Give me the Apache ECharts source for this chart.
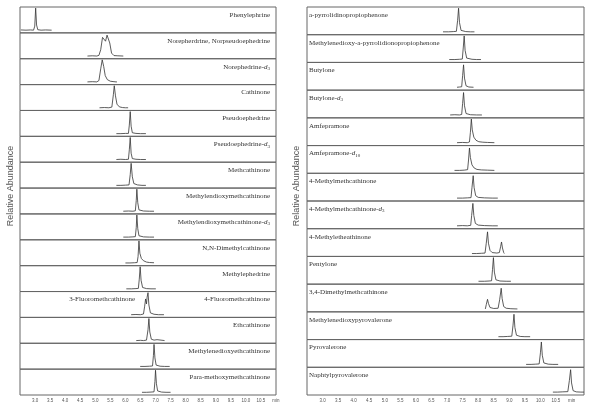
<!DOCTYPE html>
<html><head><meta charset="utf-8">
<script src="https://cdn.jsdelivr.net/npm/echarts@6/dist/echarts.min.js"></script>
<style>html,body{margin:0;padding:0;background:#fff}#c{width:598px;height:408px}</style>
</head><body><div id="c"></div>
<script>
// Axis ticks (retention time, min)
const xTickStart = 2.5, xTickStep = 0.5;
const xUnitLabel = 'min';
const yTitle = 'Relative Abundance';

// Left panel compounds (rich-text markup for italic d and subscripts)
const leftNames = [
  'Phenylephrine',
  'Norepherdrine, Norpseudoephedrine',
  'Norephedrine-{i|d}{s|3}',
  'Cathinone',
  'Pseudoephedrine',
  'Pseudoephedrine-{i|d}{s|3}',
  'Methcathinone',
  'Methylendioxymethcathinone',
  'Methylendioxymethcathinone-{i|d}{s|3}',
  'N,N-Dimethylcathinone',
  'Methylephedrine',
  '4-Fluoromethcathinone',
  'Ethcathinone',
  'Methylenedioxyethcathinone',
  'Para-methoxymethcathinone'
];
const leftExtraLabel = '3-Fluoromethcathinone';

// Right panel compounds
const rightNames = [
  'a-pyrrolidinopropiophenone',
  'Methylenedioxy-a-pyrrolidionopropiophenone',
  'Butylone',
  'Butylone-{i|d}{s|3}',
  'Amfepramone',
  'Amfepramone-{i|d}{s|10}',
  '4-Methylmethcathinone',
  '4-Methylmethcathinone-{i|d}{s|3}',
  '4-Methyletheathinone',
  'Pentylone',
  '3,4-Dimethylmethcathinone',
  'Methylenedioxypyrovalerone',
  'Pyrovalerone',
  'Naphtylpyrovalerone'
];

// Traces: [time (min), relative intensity]
const tPhenylephrine = [[2.53,3],[2.7,2],[2.85,3],[2.95,2],[2.99,20],[3.02,100],[3.05,25],[3.09,4],[3.2,2],[3.35,3],[3.55,2]];
const tNor = [[4.74,2],[4.9,3],[5.05,2],[5.12,5],[5.18,30],[5.24,85],[5.29,88],[5.34,68],[5.39,95],[5.43,100],[5.48,60],[5.54,15],[5.62,4],[5.75,3],[5.93,2]];
const tNorD3 = [[4.74,2],[4.9,3],[5.05,2],[5.12,8],[5.18,60],[5.23,100],[5.28,70],[5.33,30],[5.4,12],[5.5,5],[5.62,3],[5.66,7],[5.69,2],[5.72,2]];
const tCathinone = [[5.14,2],[5.3,3],[5.45,2],[5.55,5],[5.6,60],[5.63,100],[5.67,55],[5.72,18],[5.8,6],[5.9,3],[6.0,2],[6.09,2]];
const tPseudo = [[5.7,2],[5.85,2],[6.0,3],[6.1,3],[6.13,40],[6.16,100],[6.19,35],[6.23,6],[6.35,3],[6.5,2],[6.68,2]];
const tPseudoD3 = [[5.7,2],[5.85,3],[6.0,2],[6.1,3],[6.13,45],[6.16,100],[6.19,30],[6.23,6],[6.35,3],[6.5,2],[6.68,2]];
const tMethcathinone = [[5.7,2],[5.85,2],[6.0,3],[6.12,4],[6.16,50],[6.19,100],[6.23,40],[6.28,10],[6.4,4],[6.55,2],[6.68,2]];
const tMDMC = [[5.93,2],[6.1,3],[6.25,2],[6.33,4],[6.36,50],[6.38,100],[6.41,40],[6.45,8],[6.6,3],[6.8,2],[6.95,2]];
const tMDMCd3 = [[5.93,2],[6.1,2],[6.25,3],[6.33,4],[6.36,45],[6.38,100],[6.41,40],[6.45,8],[6.6,3],[6.8,2],[6.95,2]];
const tDMC = [[6.0,2],[6.15,2],[6.3,3],[6.39,4],[6.42,30],[6.45,100],[6.48,45],[6.53,22],[6.6,12],[6.7,6],[6.8,4],[6.95,3]];
const tMethylephedrine = [[6.03,2],[6.2,2],[6.35,3],[6.43,4],[6.46,45],[6.49,100],[6.52,40],[6.57,8],[6.7,3],[6.85,2],[7.01,2]];
const tFMC = [[6.19,2],[6.35,3],[6.5,2],[6.6,5],[6.64,40],[6.67,72],[6.7,50],[6.72,80],[6.75,100],[6.78,45],[6.83,10],[6.95,4],[7.1,2],[7.28,2]];
const tEthcathinone = [[6.36,2],[6.5,3],[6.55,6],[6.6,2],[6.7,4],[6.75,50],[6.78,100],[6.81,40],[6.86,8],[6.95,4],[7.05,6],[7.1,2],[7.3,2]];
const tMDEC = [[6.49,2],[6.65,2],[6.8,3],[6.9,4],[6.93,50],[6.95,100],[6.98,40],[7.02,8],[7.15,3],[7.3,2],[7.47,2]];
const tPMMC = [[6.55,2],[6.7,2],[6.85,3],[6.95,4],[6.98,50],[7.0,100],[7.03,40],[7.07,8],[7.2,3],[7.35,2],[7.5,2]];

const tAPPP = [[6.87,2],[7.05,2],[7.2,3],[7.3,4],[7.34,50],[7.37,100],[7.4,40],[7.45,8],[7.6,3],[7.75,2],[7.88,2]];
const tMDPPP = [[7.07,2],[7.25,2],[7.4,3],[7.49,4],[7.52,50],[7.55,100],[7.58,40],[7.63,8],[7.8,3],[7.95,2],[8.09,2]];
const tButylone = [[7.32,2],[7.4,3],[7.47,4],[7.5,50],[7.53,95],[7.56,40],[7.61,8],[7.7,3],[7.85,2]];
const tButyloneD3 = [[7.1,2],[7.25,3],[7.4,2],[7.47,4],[7.5,50],[7.53,95],[7.56,40],[7.61,8],[7.75,3],[7.95,2],[8.12,2]];
const tAmfepramone = [[7.32,2],[7.5,3],[7.65,2],[7.72,5],[7.75,45],[7.78,100],[7.81,55],[7.86,25],[7.93,12],[8.02,6],[8.15,4],[8.3,3],[8.52,2]];
const tAmfepramoneD10 = [[7.24,2],[7.4,2],[7.55,3],[7.66,5],[7.69,45],[7.72,95],[7.75,55],[7.8,25],[7.87,12],[7.96,6],[8.1,4],[8.3,3],[8.52,2]];
const tMMC = [[7.32,2],[7.5,2],[7.65,3],[7.77,4],[7.8,45],[7.84,95],[7.87,45],[7.92,12],[8.0,5],[8.2,3],[8.45,2],[8.63,2]];
const tMMCd3 = [[7.32,2],[7.5,3],[7.65,2],[7.76,4],[7.79,45],[7.83,95],[7.86,45],[7.91,12],[8.0,5],[8.2,3],[8.45,2],[8.63,2]];
const tMEC = [[7.8,2],[7.95,2],[8.1,3],[8.22,4],[8.26,45],[8.3,92],[8.33,45],[8.38,15],[8.45,6],[8.6,4],[8.68,6],[8.72,30],[8.75,50],[8.78,25],[8.82,6],[8.84,2]];
const tPentylone = [[8.01,2],[8.2,2],[8.35,3],[8.43,4],[8.46,50],[8.49,100],[8.52,40],[8.57,8],[8.7,3],[8.9,2],[9.05,2]];
const tDMMC = [[8.23,2],[8.26,20],[8.3,42],[8.33,25],[8.38,8],[8.5,4],[8.64,5],[8.69,40],[8.74,88],[8.77,45],[8.82,12],[8.9,5],[9.05,3],[9.26,2]];
const tMDPV = [[8.65,2],[8.8,2],[8.95,3],[9.08,4],[9.12,50],[9.15,95],[9.18,40],[9.23,8],[9.35,3],[9.5,2],[9.67,2]];
const tPyrovalerone = [[9.54,2],[9.7,2],[9.85,3],[9.96,4],[10.0,50],[10.03,95],[10.06,40],[10.11,8],[10.25,3],[10.4,2],[10.57,2]];
const tNaphyrone = [[10.4,2],[10.55,2],[10.7,3],[10.88,4],[10.93,50],[10.97,95],[11.0,40],[11.05,8],[11.15,3],[11.3,2],[11.4,2]];

const leftTraces = [tPhenylephrine,tNor,tNorD3,tCathinone,tPseudo,tPseudoD3,tMethcathinone,tMDMC,tMDMCd3,tDMC,tMethylephedrine,tFMC,tEthcathinone,tMDEC,tPMMC];
const rightTraces = [tAPPP,tMDPPP,tButylone,tButyloneD3,tAmfepramone,tAmfepramoneD10,tMMC,tMMCd3,tMEC,tPentylone,tDMMC,tMDPV,tPyrovalerone,tNaphyrone];

// ---- layout ----
const panelTop = 7, panelBottom = 395;
const panels = [
  {left:20, right:276, xmax:11.0, names:leftNames, traces:leftTraces, align:'right', labelX:270},
  {left:307, right:584, xmax:11.4, names:rightNames, traces:rightTraces, align:'left', labelX:309}
];

const grids = [], xAxes = [], yAxes = [], series = [], graphics = [];
const rich = {
  i:{fontFamily:'Liberation Serif',fontSize:7,fontStyle:'italic',color:'#333'},
  s:{fontFamily:'Liberation Serif',fontSize:5,color:'#333',padding:[4,0,0,0]}
};
panels.forEach(p => {
  const n = p.names.length;
  const h = (panelBottom - panelTop) / n;
  p.names.forEach((nm, i) => {
    const gi = grids.length;
    const top = panelTop + i*h;
    grids.push({left:p.left, width:p.right-p.left, top:top, height:h, show:true, borderColor:'#666', borderWidth:1, containLabel:false});
    const last = i === n-1;
    xAxes.push({type:'value', gridIndex:gi, min:xTickStart, max:p.xmax, interval:xTickStep,
      axisLine:{show:false}, axisTick:{show:false}, splitLine:{show:false},
      axisLabel:{show:last, fontSize:4.5, color:'#555', margin:3, fontFamily:'Liberation Sans',
        showMinLabel:false, showMaxLabel: p.xmax===11.0,
        formatter: v => (Math.abs(v-11)<1e-6 ? xUnitLabel : (v<2.9||v>11.01 ? '' : v.toFixed(1)))}});
    yAxes.push({type:'value', gridIndex:gi, min:-10, max:105, show:false});
    series.push({type:'line', xAxisIndex:gi, yAxisIndex:gi, data:p.traces[i], showSymbol:false, symbol:'none',
      lineStyle:{color:'#333', width:0.8}, silent:true, animation:false, clip:true});
    graphics.push({type:'text', x:p.labelX, y:top+8, style:{text:nm, rich:rich, align:p.align, verticalAlign:'middle',
      fontFamily:'Liberation Serif', fontSize:7, fill:'#333'}});
  });
});
// extra left label in the fluoromethcathinone row
{
  const h = (panelBottom - panelTop) / leftNames.length;
  graphics.push({type:'text', x:135, y:panelTop + 11*h + 8, style:{text:leftExtraLabel, align:'right', verticalAlign:'middle',
    fontFamily:'Liberation Serif', fontSize:7, fill:'#333'}});
}
// y titles
[11, 297].forEach(x => {
  graphics.push({type:'text', x:x, y:186, rotation:Math.PI/2, style:{text:yTitle, align:'center', verticalAlign:'middle',
    fontFamily:'Liberation Sans', fontSize:9, fill:'#555'}});
});

const chart = echarts.init(document.getElementById('c'), null, {renderer:'canvas'});
chart.setOption({animation:false, backgroundColor:'#fff', grid:grids, xAxis:xAxes, yAxis:yAxes, series:series, graphic:graphics});
</script>
</body></html>
